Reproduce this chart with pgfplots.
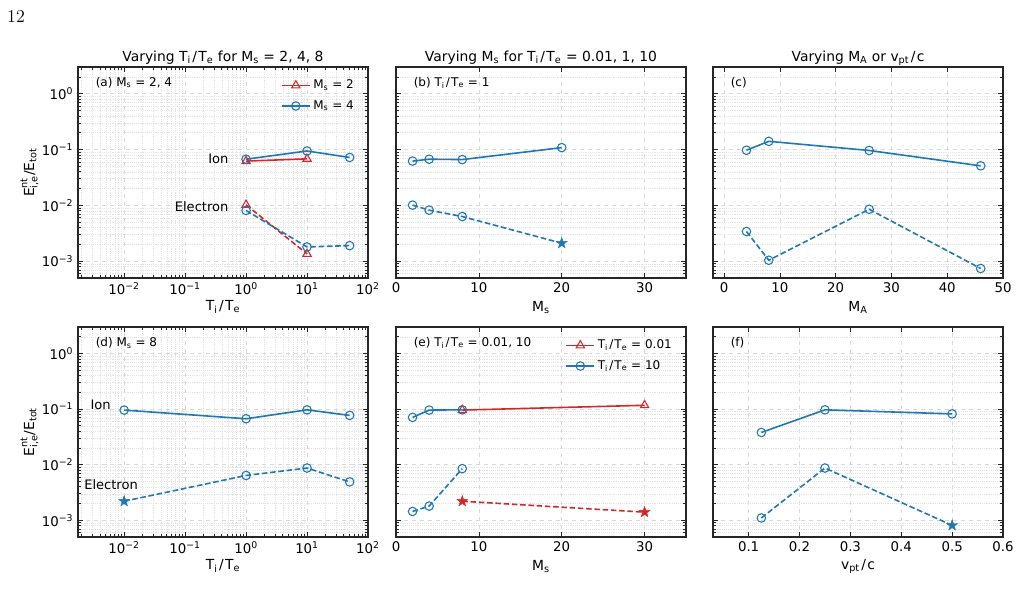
\documentclass[border=0pt]{standalone}
\usepackage{fontspec}
\newfontfamily\dv{DejaVu Sans}
\usepackage{amsmath}
\usepackage{pgfplots}
\pgfplotsset{compat=1.18}
\definecolor{tabblue}{HTML}{1F77B4}
\definecolor{tabred}{HTML}{D62728}

\pgfdeclareplotmark{fstar}{%
  \pgfpathmoveto{\pgfpointpolar{90}{\pgfplotmarksize}}%
  \pgfpathlineto{\pgfpointpolar{126}{0.4\pgfplotmarksize}}%
  \pgfpathlineto{\pgfpointpolar{162}{\pgfplotmarksize}}%
  \pgfpathlineto{\pgfpointpolar{198}{0.4\pgfplotmarksize}}%
  \pgfpathlineto{\pgfpointpolar{234}{\pgfplotmarksize}}%
  \pgfpathlineto{\pgfpointpolar{270}{0.4\pgfplotmarksize}}%
  \pgfpathlineto{\pgfpointpolar{306}{\pgfplotmarksize}}%
  \pgfpathlineto{\pgfpointpolar{342}{0.4\pgfplotmarksize}}%
  \pgfpathlineto{\pgfpointpolar{18}{\pgfplotmarksize}}%
  \pgfpathlineto{\pgfpointpolar{54}{0.4\pgfplotmarksize}}%
  \pgfpathclose
  \pgfusepathqfillstroke
}

\newcommand{\bigf}{\dv\fontsize{10.4}{12.5}\selectfont}
\newcommand{\tickf}{\dv\fontsize{10}{12}\selectfont}
\newcommand{\smf}{\dv\fontsize{9}{10.8}\selectfont}
\newcommand{\midf}{\dv\fontsize{9.8}{11.5}\selectfont}
\newcommand{\TiTe}{T\textsubscript{i}\kern0.1em/\kern0.1em T\textsubscript{e}}

\pgfplotsset{
  every axis title/.style={at={(0.5,1)}, anchor=base, yshift=4.4pt, font=\bigf},
  every axis/.append style={
    scale only axis, width=217.5pt, height=158.25pt, anchor=south west,
    ymin=5e-4, ymax=3,
    ytick={1e-3,1e-2,1e-1,1},
    minor ytick={6e-4,7e-4,8e-4,9e-4,2e-3,3e-3,4e-3,5e-3,6e-3,7e-3,8e-3,9e-3,2e-2,3e-2,4e-2,5e-2,6e-2,7e-2,8e-2,9e-2,0.2,0.3,0.4,0.5,0.6,0.7,0.8,0.9,2,3},
    tick align=inside,
    major tick length=3.5pt, minor tick length=2pt,
    grid=both,
    major grid style={gray!30, dashed, line width=0.4pt},
    minor grid style={gray!22, densely dotted, line width=0.3pt},
    axis line style={black!85, line width=0.8pt},
    tick style={black!85, line width=0.5pt},
    tick label style={font=\tickf},
    label style={font=\bigf},
    xlabel style={at={(rel axis cs:0.5,0)}, anchor=center, yshift=-22pt},
    ylabel style={at={(rel axis cs:-0.167,0.5)}, anchor=center},
    legend style={draw=none, fill=none, font=\smf, row sep=3.3pt, at={(0.975,0.965)}, anchor=north east},
    legend cell align=left,
  },
  ionB/.style={color=tabblue, line width=1.2pt, mark=o, mark size=3.2pt, mark options={solid, line width=0.8pt}},
  ionR/.style={color=tabred, line width=1.2pt, mark=triangle, mark size=3.6pt, mark options={solid, line width=0.8pt}},
  eleB/.style={color=tabblue, line width=1.2pt, dash pattern=on 4.2pt off 2pt, no marks},
  eleR/.style={color=tabred, line width=1.2pt, dash pattern=on 4.2pt off 2pt, no marks},
  mkB/.style={color=tabblue, only marks, mark=o, mark size=3.2pt, mark options={solid, line width=0.8pt}},
  mkR/.style={color=tabred, only marks, mark=triangle, mark size=3.6pt, mark options={solid, line width=0.8pt}},
  stB/.style={color=tabblue, only marks, mark=fstar, mark size=4.3pt, mark options={solid, fill=tabblue, line width=0.3pt}},
  stR/.style={color=tabred, only marks, mark=fstar, mark size=4.3pt, mark options={solid, fill=tabred, line width=0.3pt}},
}

\begin{document}
\begin{tikzpicture}
\path[use as bounding box] (0,0) rectangle (765pt,451.5pt);
\node[font=\fontsize{13.5}{15}\selectfont] at (12pt,439pt) {12};

% (a)
\begin{axis}[at={(58.5pt,243pt)}, ymode=log, xmode=log,
  xmin=1.75e-3, xmax=100,
  xtick={1e-2,1e-1,1,10,100},
  xticklabels={10\textsuperscript{−2},10\textsuperscript{−1},10\textsuperscript{0},10\textsuperscript{1},10\textsuperscript{2}},
  minor xtick={2e-3,3e-3,4e-3,5e-3,6e-3,7e-3,8e-3,9e-3,2e-2,3e-2,4e-2,5e-2,6e-2,7e-2,8e-2,9e-2,0.2,0.3,0.4,0.5,0.6,0.7,0.8,0.9,2,3,4,5,6,7,8,9,20,30,40,50,60,70,80,90},
  yticklabels={10\textsuperscript{−3},10\textsuperscript{−2},10\textsuperscript{−1},10\textsuperscript{0}},
  ylabel={$\text{E}^{\text{nt}}_{\text{i,e}}\text{/E}_{\text{tot}}$},
  xlabel={\TiTe},
  title={Varying \TiTe\ for M\textsubscript{s} = 2, 4, 8},
  legend image code/.code={\draw[mark repeat=2,mark phase=2] plot coordinates {(0cm,0cm)(0.37cm,0cm)(0.74cm,0cm)};}]
\addplot[ionR] coordinates {(1,0.062) (10,0.068)};
\addlegendentry{M\textsubscript{s} = 2}
\addplot[ionB] coordinates {(1,0.067) (10,0.094) (50,0.072)};
\addlegendentry{M\textsubscript{s} = 4}
\addplot[eleR, forget plot] coordinates {(1,0.0102) (10,0.00135)};
\addplot[mkR, forget plot] coordinates {(1,0.0102) (10,0.00135)};
\addplot[eleB, forget plot] coordinates {(1,0.0081) (10,0.0018) (50,0.0019)};
\addplot[mkB, forget plot] coordinates {(1,0.0081) (10,0.0018) (50,0.0019)};
\node[font=\smf, anchor=west] at (rel axis cs:0.045,0.925) {(a) M\textsubscript{s} = 2, 4};
\node[font=\midf, anchor=east] at (rel axis cs:0.535,0.564) {Ion};
\node[font=\midf, anchor=east] at (rel axis cs:0.535,0.336) {Electron};
\end{axis}

% (b)
\begin{axis}[at={(297pt,243pt)}, ymode=log, yticklabels={},
  xmin=0, xmax=35, xtick={0,10,20,30},
  /pgf/number format/assume math mode=true,
  title={Varying M\textsubscript{s} for \TiTe\ = 0.01, 1, 10},
  xlabel={M\textsubscript{s}}]
\addplot[ionB] coordinates {(2,0.062) (4,0.067) (8,0.066) (20,0.108)};
\addplot[eleB] coordinates {(2,0.0101) (4,0.0082) (8,0.0063) (20,0.0021)};
\addplot[mkB] coordinates {(2,0.0101) (4,0.0082) (8,0.0063)};
\addplot[stB] coordinates {(20,0.0021)};
\node[font=\smf, anchor=west] at (rel axis cs:0.045,0.925) {(b) \TiTe\ = 1};
\end{axis}

% (c)
\begin{axis}[at={(534.75pt,243pt)}, ymode=log, yticklabels={},
  xmin=-2, xmax=50, xtick={0,10,20,30,40,50},
  /pgf/number format/assume math mode=true,
  title={Varying M\textsubscript{A} or v\textsubscript{pt}\kern0.1em/\kern0.1em c},
  xlabel={M\textsubscript{A}}]
\addplot[ionB] coordinates {(4,0.097) (8,0.14) (26,0.096) (46,0.051)};
\addplot[eleB] coordinates {(4,0.0034) (8,0.00104) (26,0.0085) (46,0.00074)};
\addplot[mkB] coordinates {(4,0.0034) (8,0.00104) (26,0.0085) (46,0.00074)};
\node[font=\smf, anchor=west] at (rel axis cs:0.045,0.925) {(c)};
\end{axis}

% (d)
\begin{axis}[at={(58.5pt,48.75pt)}, height=157.5pt, ymode=log, xmode=log,
  xmin=1.75e-3, xmax=100,
  xtick={1e-2,1e-1,1,10,100},
  xticklabels={10\textsuperscript{−2},10\textsuperscript{−1},10\textsuperscript{0},10\textsuperscript{1},10\textsuperscript{2}},
  minor xtick={2e-3,3e-3,4e-3,5e-3,6e-3,7e-3,8e-3,9e-3,2e-2,3e-2,4e-2,5e-2,6e-2,7e-2,8e-2,9e-2,0.2,0.3,0.4,0.5,0.6,0.7,0.8,0.9,2,3,4,5,6,7,8,9,20,30,40,50,60,70,80,90},
  yticklabels={10\textsuperscript{−3},10\textsuperscript{−2},10\textsuperscript{−1},10\textsuperscript{0}},
  ylabel={$\text{E}^{\text{nt}}_{\text{i,e}}\text{/E}_{\text{tot}}$},
  xlabel={\TiTe}]
\addplot[ionB] coordinates {(0.01,0.096) (1,0.067) (10,0.097) (50,0.077)};
\addplot[eleB] coordinates {(0.01,0.0022) (1,0.0064) (10,0.0087) (50,0.0049)};
\addplot[mkB] coordinates {(1,0.0064) (10,0.0087) (50,0.0049)};
\addplot[stB] coordinates {(0.01,0.0022)};
\node[font=\smf, anchor=west] at (rel axis cs:0.045,0.924) {(d) M\textsubscript{s} = 8};
\node[font=\midf] at (rel axis cs:0.078,0.629) {Ion};
\node[font=\midf] at (rel axis cs:0.114,0.248) {Electron};
\end{axis}

% (e)
\begin{axis}[at={(297pt,48.75pt)}, height=157.5pt, ymode=log, yticklabels={},
  xmin=0, xmax=35, xtick={0,10,20,30},
  /pgf/number format/assume math mode=true,
  xlabel={M\textsubscript{s}},
  legend image code/.code={\draw[mark repeat=2,mark phase=2] plot coordinates {(0cm,0cm)(0.37cm,0cm)(0.74cm,0cm)};}]
\addplot[ionR] coordinates {(8,0.096) (30,0.117)};
\addlegendentry{\TiTe\ = 0.01}
\addplot[ionB] coordinates {(2,0.071) (4,0.096) (8,0.097)};
\addlegendentry{\TiTe\ = 10}
\addplot[eleR, forget plot] coordinates {(8,0.0022) (30,0.0014)};
\addplot[stR, forget plot] coordinates {(8,0.0022) (30,0.0014)};
\addplot[eleB, forget plot] coordinates {(2,0.00144) (4,0.0018) (8,0.0085)};
\addplot[mkB, forget plot] coordinates {(2,0.00144) (4,0.0018) (8,0.0085)};
\node[font=\smf, anchor=west] at (rel axis cs:0.045,0.924) {(e) \TiTe\ = 0.01, 10};
\end{axis}

% (f)
\begin{axis}[at={(534.75pt,48.75pt)}, height=157.5pt, ymode=log, yticklabels={},
  xmin=0.03, xmax=0.6,
  xtick={0.1,0.2,0.3,0.4,0.5,0.6},
  /pgf/number format/assume math mode=true,
  xticklabel style={/pgf/number format/.cd, fixed, precision=1},
  xlabel={v\textsubscript{pt}\kern0.1em/\kern0.1em c}]
\addplot[ionB] coordinates {(0.125,0.038) (0.25,0.097) (0.5,0.082)};
\addplot[eleB] coordinates {(0.125,0.0011) (0.25,0.0087) (0.5,0.00081)};
\addplot[mkB] coordinates {(0.125,0.0011) (0.25,0.0087)};
\addplot[stB] coordinates {(0.5,0.00081)};
\node[font=\smf, anchor=west] at (rel axis cs:0.045,0.924) {(f)};
\end{axis}
\end{tikzpicture}
\end{document}
